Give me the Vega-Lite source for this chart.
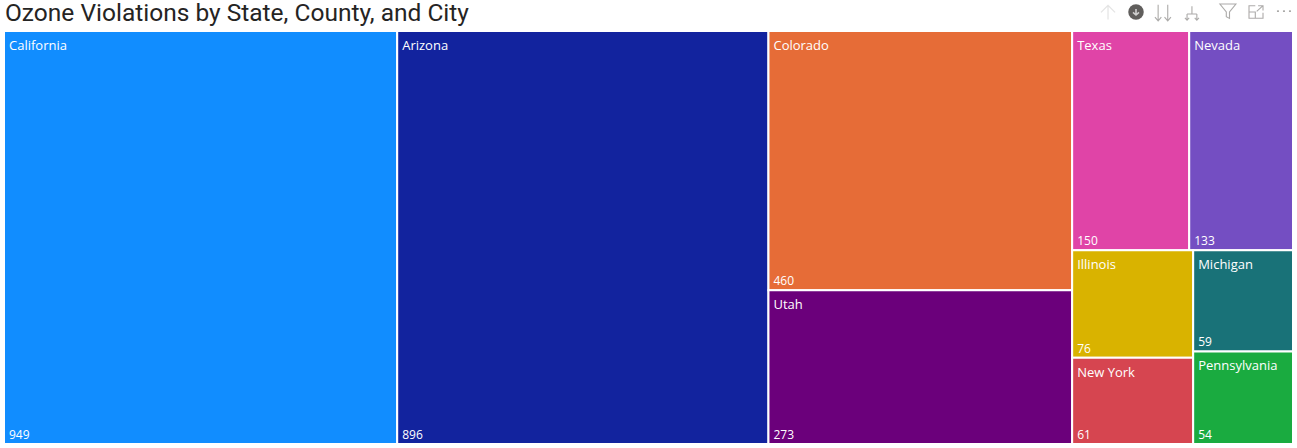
{
"$schema":"https://vega.github.io/schema/vega-lite/v6.json",
"width":1289,"height":413,
"autosize":{"type":"none"},
"padding":{"left":4,"top":31,"right":4,"bottom":4},
"background":"white",
"view":{"stroke":null},
"title":{"text":"Ozone Violations by State, County, and City","anchor":"start","frame":"group","font":"Roboto","fontSize":24.5,"fontWeight":"normal","color":"#252423","offset":6,"dx":1,"dy":31},
"data":{"values":[
{"state":"California","violations":949,"col":1,"band":1,"sub":1,"leaf":1},
{"state":"Arizona","violations":896,"col":2,"band":1,"sub":1,"leaf":1},
{"state":"Colorado","violations":460,"col":3,"band":1,"sub":1,"leaf":1},
{"state":"Utah","violations":273,"col":3,"band":2,"sub":1,"leaf":1},
{"state":"Texas","violations":150,"col":4,"band":1,"sub":1,"leaf":1},
{"state":"Nevada","violations":133,"col":4,"band":1,"sub":2,"leaf":1},
{"state":"Illinois","violations":76,"col":4,"band":2,"sub":1,"leaf":1},
{"state":"New York","violations":61,"col":4,"band":2,"sub":1,"leaf":2},
{"state":"Michigan","violations":59,"col":4,"band":2,"sub":2,"leaf":1},
{"state":"Pennsylvania","violations":54,"col":4,"band":2,"sub":2,"leaf":2}
]},
"transform":[
{"joinaggregate":[{"op":"sum","field":"violations","as":"total"}]},
{"joinaggregate":[{"op":"sum","field":"violations","as":"colTotal"}],"groupby":["col"]},
{"joinaggregate":[{"op":"sum","field":"violations","as":"bandTotal"}],"groupby":["col","band"]},
{"joinaggregate":[{"op":"sum","field":"violations","as":"subTotal"}],"groupby":["col","band","sub"]},
{"window":[{"op":"sum","field":"violations","as":"colEnd"}],"sort":[{"field":"col"}]},
{"window":[{"op":"sum","field":"violations","as":"bandEnd"}],"groupby":["col"],"sort":[{"field":"band"}]},
{"window":[{"op":"sum","field":"violations","as":"subEnd"}],"groupby":["col","band"],"sort":[{"field":"sub"}]},
{"window":[{"op":"sum","field":"violations","as":"leafEnd"}],"groupby":["col","band","sub"],"sort":[{"field":"leaf"}]},
{"calculate":"((datum.colEnd-datum.colTotal)+(datum.subEnd-datum.subTotal)/datum.bandTotal*datum.colTotal)/datum.total","as":"x0"},
{"calculate":"((datum.colEnd-datum.colTotal)+datum.subEnd/datum.bandTotal*datum.colTotal)/datum.total","as":"x1"},
{"calculate":"((datum.bandEnd-datum.bandTotal)+(datum.leafEnd-datum.violations)/datum.subTotal*datum.bandTotal)/datum.colTotal","as":"y0"},
{"calculate":"((datum.bandEnd-datum.bandTotal)+datum.leafEnd/datum.subTotal*datum.bandTotal)/datum.colTotal","as":"y1"}
],
"layer":[
{"mark":{"type":"rect","stroke":"white","strokeWidth":2},
 "encoding":{
  "x":{"field":"x0","type":"quantitative","scale":{"domain":[0,1]},"axis":null},
  "x2":{"field":"x1"},
  "y":{"field":"y0","type":"quantitative","scale":{"domain":[0,1],"reverse":true},"axis":null},
  "y2":{"field":"y1"},
  "fill":{"field":"state","type":"nominal","legend":null,"scale":{
   "domain":["California","Arizona","Colorado","Utah","Texas","Nevada","Illinois","New York","Michigan","Pennsylvania"],
   "range":["#118DFF","#12239E","#E66C37","#6B007B","#E044A7","#744EC2","#D9B300","#D64550","#197278","#1AAB40"]}}
 }},
{"mark":{"type":"text","align":"left","baseline":"middle","dx":5,"dy":15,"font":"Open Sans","fontSize":13,"color":"white"},
 "encoding":{
  "x":{"field":"x0","type":"quantitative"},
  "y":{"field":"y0","type":"quantitative"},
  "text":{"field":"state"}
 }},
{"mark":{"type":"text","align":"left","baseline":"middle","dx":5,"dy":-9,"font":"Open Sans","fontSize":12,"color":"white"},
 "encoding":{
  "x":{"field":"x0","type":"quantitative"},
  "y":{"field":"y1","type":"quantitative"},
  "text":{"field":"violations","type":"quantitative"}
 }},
{"data":{"values":[{"control":"drill up"}]},
 "mark":{"type":"point","shape":"M0,1L0,-1M-1,0L0,-1L1,0","filled":false,"stroke":"#D9D9D9","strokeWidth":1.2,"size":196},
 "encoding":{"x":{"datum":0.8565,"type":"quantitative"},"y":{"datum":-0.045,"type":"quantitative"}}},
{"data":{"values":[{"control":"drill on"}]},
 "mark":{"type":"point","shape":"circle","filled":true,"fill":"#605E5C","opacity":1,"size":240},
 "encoding":{"x":{"datum":0.8782,"type":"quantitative"},"y":{"datum":-0.046,"type":"quantitative"}}},
{"data":{"values":[{"control":"drill on arrow"}]},
 "mark":{"type":"point","shape":"M0,-1L0,1M-1,0.1L0,1L1,0.1","filled":false,"stroke":"white","strokeWidth":1.6,"size":36},
 "encoding":{"x":{"datum":0.8782,"type":"quantitative"},"y":{"datum":-0.046,"type":"quantitative"}}},
{"data":{"values":[{"control":"next level"}]},
 "mark":{"type":"point","shape":"M-0.6,-1L-0.6,1M-1,0.55L-0.6,1L-0.2,0.55M0.6,-1L0.6,1M0.2,0.55L0.6,1L1,0.55","filled":false,"stroke":"#8A8886","strokeWidth":1.1,"size":256},
 "encoding":{"x":{"datum":0.8991,"type":"quantitative"},"y":{"datum":-0.044,"type":"quantitative"}}},
{"data":{"values":[{"control":"expand"}]},
 "mark":{"type":"point","shape":"M0,-1L0,0.1M-0.7,0.1L0.7,0.1M-0.7,0.1L-0.7,1M-1,0.65L-0.7,1L-0.4,0.65M0.7,0.1L0.7,1M0.4,0.65L0.7,1L1,0.65","filled":false,"stroke":"#8A8886","strokeWidth":1.1,"size":196},
 "encoding":{"x":{"datum":0.9216,"type":"quantitative"},"y":{"datum":-0.043,"type":"quantitative"}}},
{"data":{"values":[{"control":"filter"}]},
 "mark":{"type":"point","shape":"M-1,-0.9L1,-0.9L0.2,0.1L0.2,0.9L-0.2,0.7L-0.2,0.1Z","filled":false,"stroke":"#8A8886","strokeWidth":1.1,"size":256},
 "encoding":{"x":{"datum":0.9495,"type":"quantitative"},"y":{"datum":-0.048,"type":"quantitative"}}},
{"data":{"values":[{"control":"focus"}]},
 "mark":{"type":"point","shape":"M-0.1,-0.9L-1,-0.9L-1,0.9L1,0.9L1,0.1M0.1,-0.1L1,-0.9M0.3,-0.9L1,-0.9L1,-0.2M-1,0L-0.1,0L-0.1,0.9","filled":false,"stroke":"#8A8886","strokeWidth":1.1,"size":196},
 "encoding":{"x":{"datum":0.9713,"type":"quantitative"},"y":{"datum":-0.046,"type":"quantitative"}}},
{"data":{"values":[{"control":"more"}]},
 "mark":{"type":"point","shape":"M-1,-0.1L-1,0.1M0,-0.1L0,0.1M1,-0.1L1,0.1","filled":false,"stroke":"#605E5C","strokeWidth":2,"size":144},
 "encoding":{"x":{"datum":0.993,"type":"quantitative"},"y":{"datum":-0.048,"type":"quantitative"}}}
]
}
